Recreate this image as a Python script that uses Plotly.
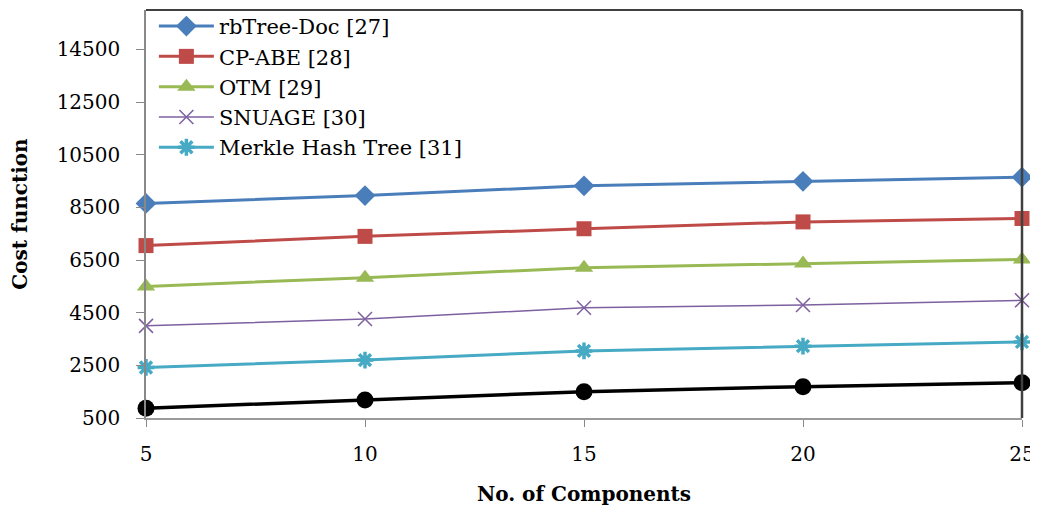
import plotly.graph_objects as go

components = [5, 10, 15, 20, 25]
rbtree_doc = [8650, 8950, 9320, 9490, 9650]
cp_abe = [7050, 7400, 7690, 7950, 8080]
otm = [5500, 5830, 6210, 6370, 6520]
snuage = [4000, 4260, 4690, 4790, 4970]
merkle = [2420, 2700, 3050, 3230, 3390]
proposed = [870, 1180, 1500, 1690, 1840]

y_ticks = [500, 2500, 4500, 6500, 8500, 10500, 12500, 14500]
x_ticks = [5, 10, 15, 20, 25]

FONT = "DejaVu Serif, Liberation Serif, serif"

series = [
    ("rbTree-Doc [27]", rbtree_doc, "#4A7EBB", dict(symbol="diamond", size=16), 3, True),
    ("CP-ABE [28]", cp_abe, "#BE4B48", dict(symbol="square", size=15), 3, True),
    ("OTM [29]", otm, "#98B954", dict(symbol="triangle-up", size=16), 3, True),
    ("SNUAGE [30]", snuage, "#7D60A0", dict(symbol="x-thin-open", size=14, line=dict(width=1.5, color="#7D60A0")), 1.5, True),
    ("Merkle Hash Tree [31]", merkle, "#46AAC5", dict(symbol="asterisk-open", size=14, line=dict(width=3.5, color="#46AAC5")), 3, True),
    ("Proposed", proposed, "#000000", dict(symbol="circle", size=17), 3.5, False),
]

fig = go.Figure()
for name, vals, color, marker, lw, show in series:
    m = dict(color=color, **marker)
    fig.add_trace(go.Scatter(
        x=components, y=vals, name=name, mode="lines+markers",
        line=dict(color=color, width=lw), marker=m,
        showlegend=show, cliponaxis=False,
    ))

# page body has an 8px default margin: figure is sized/offset to compensate
fig.update_layout(
    width=1030, height=498,
    margin=dict(l=138, r=16, t=2, b=88, autoexpand=False),
    paper_bgcolor="white", plot_bgcolor="white",
    font=dict(family=FONT, size=20, color="#000000"),
    legend=dict(x=0.009, y=1.010, xanchor="left", yanchor="top",
                bgcolor="rgba(0,0,0,0)", font=dict(family=FONT, size=21),
                tracegroupgap=0, itemwidth=55),
    xaxis=dict(range=[5, 25], tickvals=x_ticks, ticks="outside", ticklen=7,
               tickcolor="#888888", showgrid=False, zeroline=False,
               showline=True, linecolor="#9a9a9a", linewidth=1.5,
               ticklabelstandoff=10, automargin=False,
               title=dict(text="<b>No. of Components</b>", font=dict(family=FONT, size=20), standoff=24)),
    yaxis=dict(range=[500, 16000], tickvals=y_ticks, tickformat="d", ticks="outside", ticklen=8,
               tickcolor="#888888", showgrid=False, zeroline=False,
               showline=True, linecolor="#888888", linewidth=1.5,
               ticklabelstandoff=12, automargin=False,
               title=dict(text="<b>Cost function</b>", font=dict(family=FONT, size=20), standoff=27)),
    shapes=[
        dict(type="line", xref="paper", yref="paper", x0=0, x1=1, y0=1, y1=1,
             line=dict(color="#404040", width=2)),
        dict(type="line", xref="paper", yref="paper", x0=1, x1=1, y0=0, y1=1,
             line=dict(color="#404040", width=2.5)),
    ],
)

fig.write_html("out.html")
